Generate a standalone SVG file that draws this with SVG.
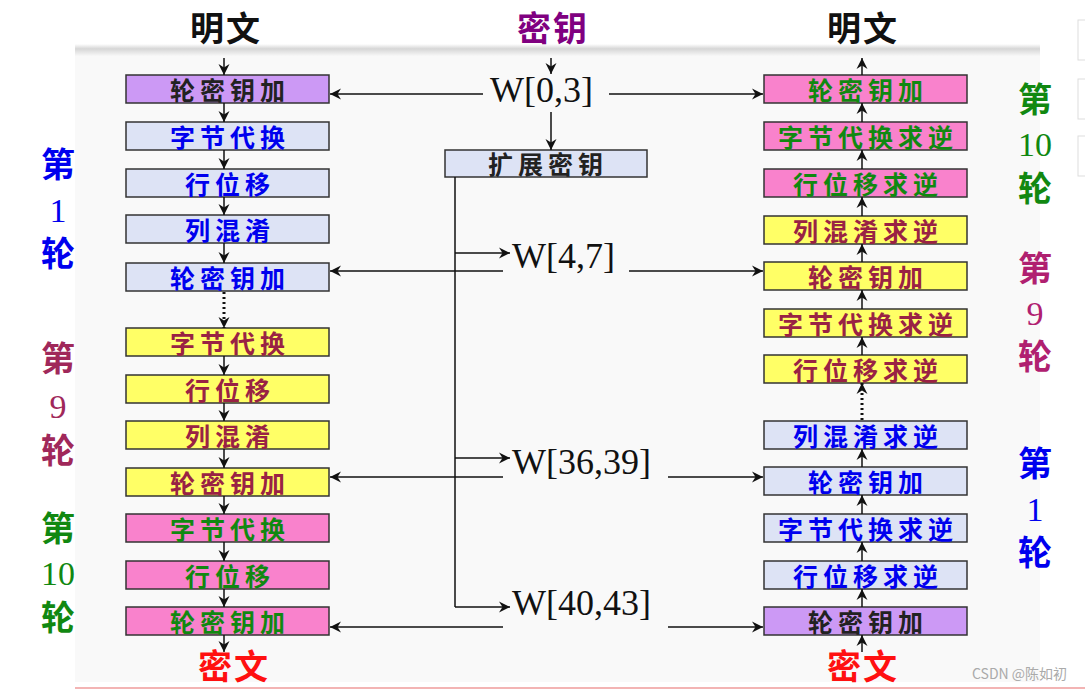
<svg xmlns="http://www.w3.org/2000/svg" width="1085" height="690" viewBox="0 0 1085 690">
<defs>
<linearGradient id="shadow" x1="0" y1="0" x2="0" y2="1">
<stop offset="0" stop-color="#ffffff"/>
<stop offset="0.4" stop-color="#d6d6d6"/>
<stop offset="1" stop-color="#f8f8f8"/>
</linearGradient>
<marker id="ah" markerUnits="userSpaceOnUse" markerWidth="14" markerHeight="14" refX="11" refY="6" orient="auto">
<path d="M0,0.5 L11,6 L0,11.5 L3.5,6 z" fill="#111"/>
</marker>
</defs>
<style>
.box{stroke:#333;stroke-width:1.5}
.pur{fill:#cc99f5}
.lav{fill:#dde3f5}
.yel{fill:#ffff66}
.pnk{fill:#f982cc}
.bt{font-family:"Noto Sans CJK SC","Noto Sans CJK TC",serif;font-size:25px;font-weight:bold;letter-spacing:5px;text-anchor:middle}
.tk{fill:#222}
.tb{fill:#0000ee}
.tm{fill:#992244}
.tg{fill:#118811}
.hd{font-family:"Noto Sans CJK SC",serif;font-size:34px;font-weight:bold;text-anchor:middle;letter-spacing:2px}
.lb{font-family:"Noto Sans CJK SC",serif;font-size:34px;font-weight:bold;text-anchor:middle}
.num{font-family:"Liberation Serif",serif;font-size:34px;text-anchor:middle}
.w{font-family:"Liberation Serif",serif;font-size:36px;fill:#111}
.ln{stroke:#111;stroke-width:1.5;fill:none}
.arr{stroke:#111;stroke-width:1.5;fill:none;marker-end:url(#ah)}
.dot{stroke:#111;stroke-width:3;stroke-dasharray:2 3;fill:none;marker-end:url(#ah)}
</style>
<rect x="0" y="0" width="1085" height="690" fill="#ffffff"/>
<rect x="75" y="50" width="965" height="632" fill="#f9f9f9"/>
<rect x="75" y="44" width="965" height="12" fill="url(#shadow)"/>
<line x1="75" y1="688" x2="1085" y2="688" stroke="#f3b4b4" stroke-width="2"/>
<g id="artifacts" fill="none" stroke="#dddddd" stroke-width="1">
<rect x="1078" y="20" width="10" height="40"/>
<rect x="1078" y="79" width="10" height="40"/>
<rect x="1078" y="136" width="10" height="40"/>
</g>

<g id="headers">
<text class="hd" x="226" y="41" fill="#111">明文</text>
<text class="hd" x="553" y="41" fill="#800080">密钥</text>
<text class="hd" x="863" y="41" fill="#111">明文</text>
<text class="hd" x="234" y="679" fill="#ff1010">密文</text>
<text class="hd" x="863" y="679" fill="#ff1010">密文</text>
</g>

<g id="round-labels">
<text class="lb" x="58" y="177" fill="#0000ee">第</text>
<text class="num" x="58" y="222" fill="#0000ee">1</text>
<text class="lb" x="58" y="266" fill="#0000ee">轮</text>
<text class="lb" x="58" y="371" fill="#a0285a">第</text>
<text class="num" x="58" y="418" fill="#a0285a">9</text>
<text class="lb" x="58" y="463" fill="#a0285a">轮</text>
<text class="lb" x="58" y="541" fill="#118811">第</text>
<text class="num" x="58" y="585" fill="#118811">10</text>
<text class="lb" x="58" y="630" fill="#118811">轮</text>
<text class="lb" x="1035" y="112" fill="#118811">第</text>
<text class="num" x="1035" y="156" fill="#118811">10</text>
<text class="lb" x="1035" y="201" fill="#118811">轮</text>
<text class="lb" x="1035" y="281" fill="#b02070">第</text>
<text class="num" x="1035" y="325" fill="#b02070">9</text>
<text class="lb" x="1035" y="369" fill="#b02070">轮</text>
<text class="lb" x="1035" y="476" fill="#0000ee">第</text>
<text class="num" x="1035" y="521" fill="#0000ee">1</text>
<text class="lb" x="1035" y="565" fill="#0000ee">轮</text>
</g>

<g id="L1"><rect class="box pur" x="126" y="75" width="203" height="28"/><text class="bt tk" x="230" y="100">轮密钥加</text></g>
<g id="L2"><rect class="box lav" x="126" y="122" width="203" height="28"/><text class="bt tb" x="230" y="147">字节代换</text></g>
<g id="L3"><rect class="box lav" x="126" y="169" width="203" height="28"/><text class="bt tb" x="230" y="194">行位移</text></g>
<g id="L4"><rect class="box lav" x="126" y="215" width="203" height="28"/><text class="bt tb" x="230" y="240">列混淆</text></g>
<g id="L5"><rect class="box lav" x="126" y="263" width="203" height="28"/><text class="bt tb" x="230" y="288">轮密钥加</text></g>
<g id="L6"><rect class="box yel" x="126" y="328" width="203" height="28"/><text class="bt tm" x="230" y="353">字节代换</text></g>
<g id="L7"><rect class="box yel" x="126" y="375" width="203" height="28"/><text class="bt tm" x="230" y="400">行位移</text></g>
<g id="L8"><rect class="box yel" x="126" y="421" width="203" height="28"/><text class="bt tm" x="230" y="446">列混淆</text></g>
<g id="L9"><rect class="box yel" x="126" y="468" width="203" height="28"/><text class="bt tm" x="230" y="493">轮密钥加</text></g>
<g id="L10"><rect class="box pnk" x="126" y="514" width="203" height="28"/><text class="bt tg" x="230" y="539">字节代换</text></g>
<g id="L11"><rect class="box pnk" x="126" y="561" width="203" height="28"/><text class="bt tg" x="230" y="586">行位移</text></g>
<g id="L12"><rect class="box pnk" x="126" y="607" width="203" height="28"/><text class="bt tg" x="230" y="632">轮密钥加</text></g>

<g id="R1"><rect class="box pnk" x="764" y="75" width="203" height="28"/><text class="bt tg" x="868" y="100">轮密钥加</text></g>
<g id="R2"><rect class="box pnk" x="764" y="122" width="203" height="28"/><text class="bt tg" x="868" y="147">字节代换求逆</text></g>
<g id="R3"><rect class="box pnk" x="764" y="169" width="203" height="28"/><text class="bt tg" x="868" y="194">行位移求逆</text></g>
<g id="R4"><rect class="box yel" x="764" y="216" width="203" height="28"/><text class="bt tm" x="868" y="241">列混淆求逆</text></g>
<g id="R5"><rect class="box yel" x="764" y="262" width="203" height="28"/><text class="bt tm" x="868" y="287">轮密钥加</text></g>
<g id="R6"><rect class="box yel" x="764" y="309" width="203" height="28"/><text class="bt tm" x="868" y="334">字节代换求逆</text></g>
<g id="R7"><rect class="box yel" x="764" y="355" width="203" height="28"/><text class="bt tm" x="868" y="380">行位移求逆</text></g>
<g id="R8"><rect class="box lav" x="764" y="421" width="203" height="28"/><text class="bt tb" x="868" y="446">列混淆求逆</text></g>
<g id="R9"><rect class="box lav" x="764" y="467" width="203" height="28"/><text class="bt tb" x="868" y="492">轮密钥加</text></g>
<g id="R10"><rect class="box lav" x="764" y="514" width="203" height="28"/><text class="bt tb" x="868" y="539">字节代换求逆</text></g>
<g id="R11"><rect class="box lav" x="764" y="561" width="203" height="28"/><text class="bt tb" x="868" y="586">行位移求逆</text></g>
<g id="R12"><rect class="box pur" x="764" y="607" width="203" height="28"/><text class="bt tk" x="868" y="632">轮密钥加</text></g>

<g id="expand"><rect class="box lav" x="445" y="150" width="202" height="27"/><text class="bt tk" x="548" y="174" letter-spacing="3">扩展密钥</text></g>

<g id="keys">
<text class="w" x="490" y="102">W[0,3]</text>
<text class="w" x="512" y="268">W[4,7]</text>
<text class="w" x="512" y="474">W[36,39]</text>
<text class="w" x="512" y="615">W[40,43]</text>
</g>

<g id="connectors">
<line class="arr" x1="224" y1="58" x2="224" y2="75"/>
<line class="arr" x1="224" y1="103" x2="224" y2="122"/>
<line class="arr" x1="224" y1="150" x2="224" y2="169"/>
<line class="arr" x1="224" y1="197" x2="224" y2="215"/>
<line class="arr" x1="224" y1="243" x2="224" y2="263"/>
<line class="dot" x1="224" y1="292" x2="224" y2="328"/>
<line class="arr" x1="224" y1="356" x2="224" y2="375"/>
<line class="arr" x1="224" y1="403" x2="224" y2="421"/>
<line class="arr" x1="224" y1="449" x2="224" y2="468"/>
<line class="arr" x1="224" y1="496" x2="224" y2="514"/>
<line class="arr" x1="224" y1="542" x2="224" y2="561"/>
<line class="arr" x1="224" y1="589" x2="224" y2="607"/>
<line class="arr" x1="224" y1="635" x2="224" y2="652"/>

<line class="arr" x1="862" y1="652" x2="862" y2="635"/>
<line class="arr" x1="862" y1="607" x2="862" y2="589"/>
<line class="arr" x1="862" y1="561" x2="862" y2="542"/>
<line class="arr" x1="862" y1="514" x2="862" y2="495"/>
<line class="arr" x1="862" y1="467" x2="862" y2="449"/>
<line class="dot" x1="862" y1="420" x2="862" y2="383"/>
<line class="arr" x1="862" y1="355" x2="862" y2="337"/>
<line class="arr" x1="862" y1="309" x2="862" y2="290"/>
<line class="arr" x1="862" y1="262" x2="862" y2="244"/>
<line class="arr" x1="862" y1="216" x2="862" y2="197"/>
<line class="arr" x1="862" y1="169" x2="862" y2="150"/>
<line class="arr" x1="862" y1="122" x2="862" y2="103"/>
<line class="arr" x1="862" y1="75" x2="862" y2="58"/>

<line class="arr" x1="551" y1="58" x2="551" y2="74"/>
<line class="arr" x1="551" y1="112" x2="551" y2="150"/>

<line class="arr" x1="483" y1="94" x2="330" y2="94"/>
<line class="arr" x1="609" y1="94" x2="763" y2="94"/>

<line class="ln" x1="455" y1="177" x2="455" y2="607"/>
<line class="arr" x1="455" y1="253" x2="510" y2="253"/>
<line class="arr" x1="455" y1="458" x2="510" y2="458"/>
<line class="arr" x1="455" y1="607" x2="510" y2="607"/>

<line class="arr" x1="503" y1="271" x2="330" y2="271"/>
<line class="arr" x1="629" y1="271" x2="763" y2="271"/>
<line class="arr" x1="503" y1="477" x2="330" y2="477"/>
<line class="arr" x1="668" y1="477" x2="763" y2="477"/>
<line class="arr" x1="503" y1="627" x2="330" y2="627"/>
<line class="arr" x1="668" y1="627" x2="763" y2="627"/>
</g>

<text x="972" y="679" font-family="'Noto Sans CJK SC',sans-serif" font-size="14" fill="#aaaaaa">CSDN @陈如初</text>
</svg>
